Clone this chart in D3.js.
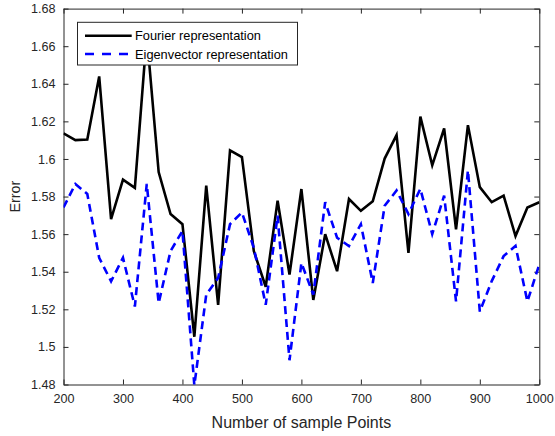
<!DOCTYPE html>
<html>
<head>
<meta charset="utf-8">
<script src="https://cdn.jsdelivr.net/npm/d3@7"></script>
<style>
  html, body { margin: 0; padding: 0; background: #fff; }
  svg { display: block; font-family: "Liberation Sans", Arial, sans-serif; }
</style>
</head>
<body>
<svg id="chart" width="555" height="436"></svg>
<script>
// Number of sample points on the x axis
const samplePoints = [200, 220, 240, 260, 280, 300, 320, 340, 360, 380,
  400, 420, 440, 460, 480, 500, 520, 540, 560, 580,
  600, 620, 640, 660, 680, 700, 720, 740, 760, 780,
  800, 820, 840, 860, 880, 900, 920, 940, 960, 980, 1000];

// Reconstruction error, Fourier basis
const fourierError = [1.6136, 1.6100, 1.6103, 1.6439, 1.5680, 1.5890, 1.5846, 1.6660, 1.5930, 1.5707,
  1.5653, 1.5054, 1.5858, 1.5224, 1.6046, 1.6010, 1.5510, 1.5320, 1.5778, 1.5385,
  1.5840, 1.5250, 1.5600, 1.5403, 1.5787, 1.5724, 1.5775, 1.6002, 1.6127, 1.5500,
  1.6225, 1.5966, 1.6162, 1.5626, 1.6180, 1.5850, 1.5770, 1.5805, 1.5590, 1.5742, 1.5770];

// Reconstruction error, eigenvector basis
const eigenError = [1.5742, 1.5867, 1.5814, 1.5474, 1.5349, 1.5474, 1.5215, 1.5867, 1.5233, 1.5510,
  1.5617, 1.4795, 1.5278, 1.5367, 1.5653, 1.5715, 1.5528, 1.5224, 1.5698, 1.4929,
  1.5447, 1.5278, 1.5770, 1.5581, 1.5537, 1.5653, 1.5340, 1.5751, 1.5832, 1.5707,
  1.5841, 1.5600, 1.5805, 1.5242, 1.5939, 1.5188, 1.5350, 1.5483, 1.5537, 1.5242, 1.5439];

const seriesNames = ["Fourier representation", "Eigenvector representation"];
const xTicks = [200, 300, 400, 500, 600, 700, 800, 900, 1000];
const yTicks = [1.48, 1.5, 1.52, 1.54, 1.56, 1.58, 1.6, 1.62, 1.64, 1.66, 1.68];
const xTitle = "Number of sample Points";
const yTitle = "Error";

const axisColor = "#262626";
const plotLeft = 63.5, plotRight = 539.3, plotTop = 8.6, plotBottom = 384.5;

const svg = d3.select("#chart");
const x = d3.scaleLinear().domain([200, 1000]).range([plotLeft, plotRight]);
const y = d3.scaleLinear().domain([1.48, 1.68]).range([plotBottom, plotTop]);

svg.append("defs").append("clipPath").attr("id", "plot-clip")
  .append("rect").attr("x", plotLeft).attr("y", plotTop)
  .attr("width", plotRight - plotLeft).attr("height", plotBottom - plotTop);

// Axes with inward ticks on all four sides
const fmt = v => String(+v.toFixed(2));
function styleAxis(g) {
  g.selectAll("path.domain").attr("stroke", axisColor).attr("stroke-width", 1);
  g.selectAll(".tick line").attr("stroke", axisColor).attr("stroke-width", 1);
  g.selectAll(".tick text").attr("fill", axisColor)
    .style("font-size", "12.6px").style("font-family", "\"Liberation Sans\", Arial, sans-serif");
}
svg.append("g").attr("transform", `translate(0,${plotBottom})`)
  .call(d3.axisBottom(x).tickValues(xTicks).tickFormat(d => d).tickSizeInner(-5).tickSizeOuter(0).tickPadding(10))
  .call(styleAxis);
svg.append("g").attr("transform", `translate(0,${plotTop})`)
  .call(d3.axisTop(x).tickValues(xTicks).tickFormat("").tickSizeInner(-5).tickSizeOuter(0))
  .call(styleAxis);
svg.append("g").attr("transform", `translate(${plotLeft},0)`)
  .call(d3.axisLeft(y).tickValues(yTicks).tickFormat(fmt).tickSizeInner(-5).tickSizeOuter(0).tickPadding(8))
  .call(styleAxis);
svg.append("g").attr("transform", `translate(${plotRight},0)`)
  .call(d3.axisRight(y).tickValues(yTicks).tickFormat("").tickSizeInner(-5).tickSizeOuter(0))
  .call(styleAxis);

// Axis titles
svg.append("text").attr("x", (plotLeft + plotRight) / 2).attr("y", 428)
  .attr("text-anchor", "middle").attr("fill", axisColor)
  .style("font-size", "16px").text(xTitle);
svg.append("text").attr("transform", `translate(20,${(plotTop + plotBottom) / 2}) rotate(-90)`)
  .attr("text-anchor", "middle").attr("fill", axisColor)
  .style("font-size", "14.3px").text(yTitle);

// Error curves
const plot = svg.append("g").attr("clip-path", "url(#plot-clip)");
const line = d3.line().x(d => x(d[0])).y(d => y(d[1]));
plot.append("path")
  .datum(d3.zip(samplePoints, fourierError))
  .attr("fill", "none").attr("stroke", "#000").attr("stroke-width", 2.6)
  .attr("stroke-linejoin", "miter").attr("d", line);
plot.append("path")
  .datum(d3.zip(samplePoints, eigenError))
  .attr("fill", "none").attr("stroke", "#0000ff").attr("stroke-width", 2.6)
  .attr("stroke-dasharray", "8,5").attr("d", line);

// Legend
const legend = svg.append("g");
legend.append("rect").attr("x", 77.5).attr("y", 22.3).attr("width", 220).attr("height", 42.7)
  .attr("fill", "#fff").attr("stroke", axisColor).attr("stroke-width", 1);
const rows = [
  { name: seriesNames[0], color: "#000", dash: null, cy: 35.7 },
  { name: seriesNames[1], color: "#0000ff", dash: "9,8", cy: 54 }
];
rows.forEach(r => {
  legend.append("line").attr("x1", 85).attr("x2", 131.7).attr("y1", r.cy).attr("y2", r.cy)
    .attr("stroke", r.color).attr("stroke-width", 2.6)
    .attr("stroke-dasharray", r.dash);
  legend.append("text").attr("x", 135).attr("y", r.cy + 4.5)
    .attr("fill", "#000").style("font-size", "12.8px").text(r.name);
});
</script>
</body>
</html>
